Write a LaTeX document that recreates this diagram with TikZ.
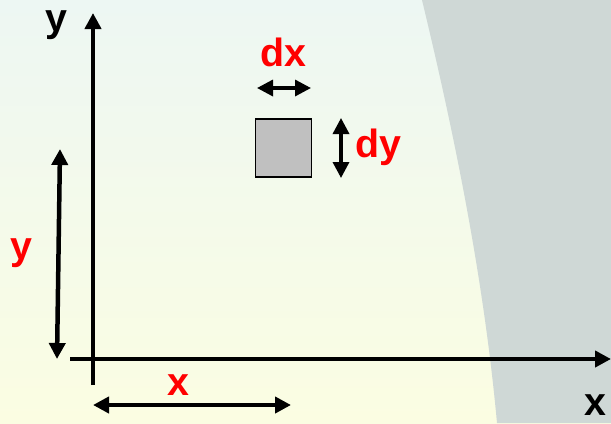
\documentclass[tikz,border=0pt]{standalone}
\usepackage{fontspec}
\setmainfont{Liberation Sans}
\usepackage{tikz}
\usetikzlibrary{arrows.meta, positioning}
\definecolor{topbg}{HTML}{EDF7F3}
\definecolor{botbg}{HTML}{FBFDE2}
\definecolor{wall}{HTML}{CFD8D6}
\definecolor{cellgray}{HTML}{C0C0C0}
\definecolor{redlabel}{HTML}{FF0000}

\begin{document}
\begin{tikzpicture}[x=0.025cm, y=-0.025cm, >={Triangle[length=0.4cm, width=0.4cm]}]
    \tikzstyle{axis} = [draw=black, line width=3.2pt, ->]
    \tikzstyle{span} = [draw=black, line width=3.2pt, <->]
    \tikzstyle{small} = [draw=black, line width=2.4pt, <->]
    \tikzstyle{cell} = [rectangle, draw=black, fill=cellgray, line width=1.4pt, minimum width=1.4cm, minimum height=1.47cm, inner sep=0pt]
    \tikzstyle{lbl} = [anchor=base, inner sep=0pt, font=\fontsize{28}{32}\selectfont\bfseries]

    % background and wall
    \useasboundingbox (0,0) rectangle (611,423);
    \shade [top color=topbg, bottom color=botbg] (0,0) rectangle (611,423);
    \fill [wall] (422,0) .. controls (456,141) and (484,282) .. (497,423) -- (611,423) -- (611,0) -- cycle;

    % axes
    \coordinate (o1) at (93,385);
    \coordinate (ytip) at (93,13);
    \coordinate (o2) at (70,359);
    \coordinate (xtip) at (611,359);
    \path [axis] (o1) -- (ytip);
    \path [axis] (o2) -- (xtip);
    \node [lbl] (ylab) at (56,31) {y};
    \node [lbl, anchor=base east] (xlab) at (607,415) {x};

    % distances
    \coordinate (ya) at (57,359);
    \coordinate (yb) at (60,149);
    \coordinate (xa) at (93,405);
    \coordinate (xb) at (291,405);
    \path [span] (ya) -- (yb);
    \path [span] (xa) -- (xb);
    \node [lbl, text=redlabel] (ydist) at (21,259) {y};
    \node [lbl, text=redlabel] (xdist) at (178,395) {x};

    % element
    \node [cell] (el) at (283.5,148) {};
    \coordinate (dxa) at (257,88);
    \coordinate (dxb) at (311,88);
    \coordinate (dya) at (341,118);
    \coordinate (dyb) at (341,178);
    \path [small] (dxa) -- (dxb);
    \path [small] (dya) -- (dyb);
    \node [lbl, text=redlabel] (dxlab) at (283,66) {dx};
    \node [lbl, text=redlabel, anchor=base west] (dylab) at (355,157) {dy};
\end{tikzpicture}
\end{document}
